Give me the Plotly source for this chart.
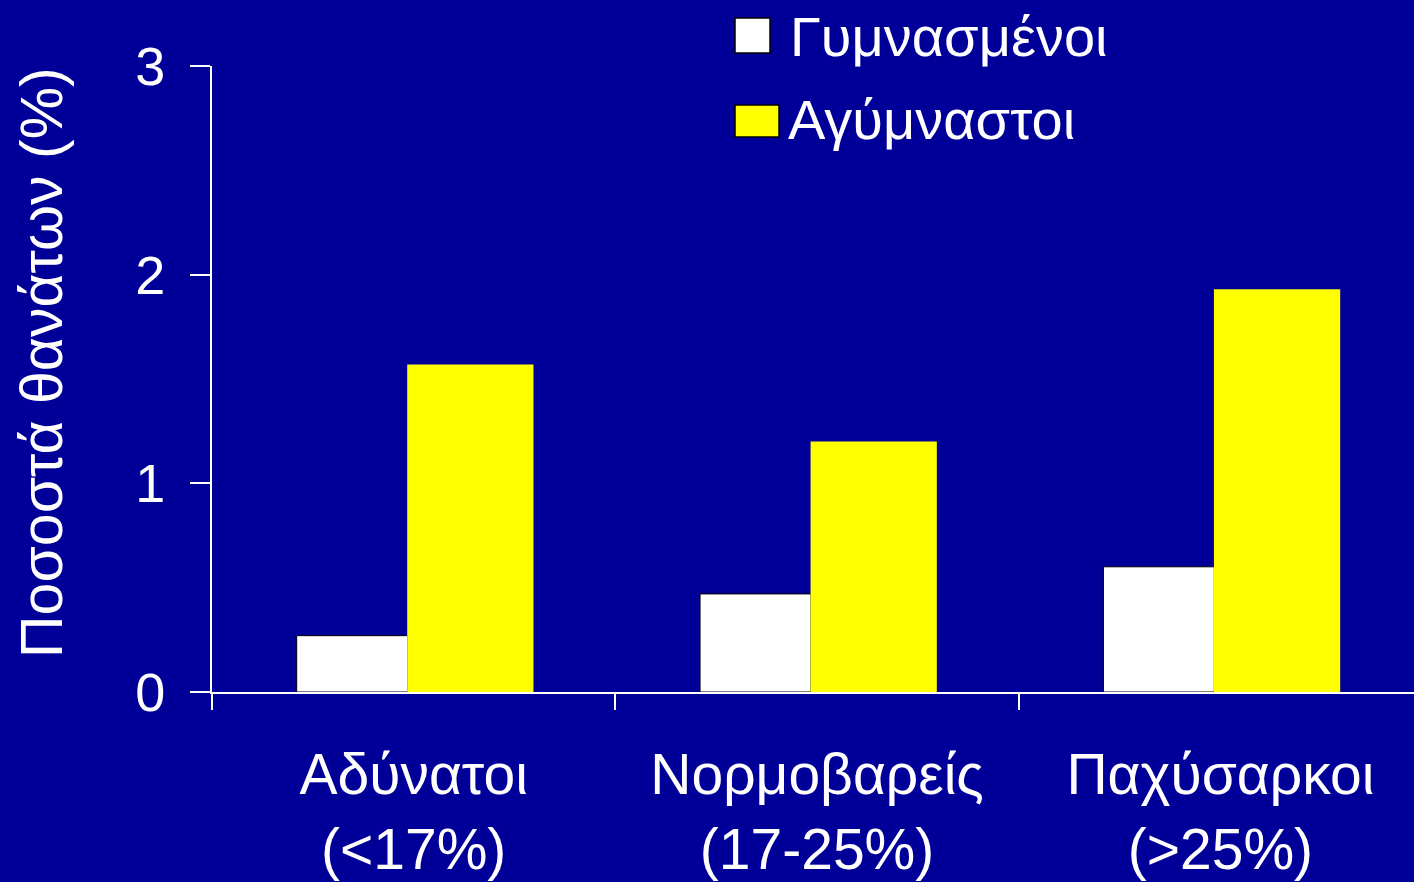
import plotly.graph_objects as go

categories = ["Αδύνατοι<br>(<17%)", "Νορμοβαρείς<br>(17-25%)", "Παχύσαρκοι<br>(>25%)"]
trained = [0.27, 0.47, 0.60]
untrained = [1.57, 1.20, 1.93]
series_names = ["Γυμνασμένοι", "Αγύμναστοι"]
y_ticks = [0, 1, 2, 3]

BG = "#000099"
FONT = "Liberation Sans, Arial, sans-serif"

W, H = 1414, 882
L, R, T, B = 212, 0, 66, 190
pw, ph = W - L - R, H - T - B


def px_x(px):
    return (px - L) / pw


def px_y(py):
    return (H - B - py) / ph


fig = go.Figure()
fig.add_trace(go.Bar(
    x=categories, y=trained, name=series_names[0],
    marker=dict(color="#FFFFFF", line=dict(color="#000000", width=1)),
    width=0.275, offset=-0.29, showlegend=False,
))
fig.add_trace(go.Bar(
    x=categories, y=untrained, name=series_names[1],
    marker=dict(color="#FFFF00", line=dict(width=0)),
    width=0.313, offset=-0.016, showlegend=False,
))

shapes = [
    dict(type="rect", xref="paper", yref="paper",
         x0=px_x(735), x1=px_x(770), y0=px_y(53), y1=px_y(18),
         fillcolor="#FFFFFF", line=dict(color="#000000", width=1.5)),
    dict(type="rect", xref="paper", yref="paper",
         x0=px_x(735), x1=px_x(779), y0=px_y(137), y1=px_y(105),
         fillcolor="#FFFF00", line=dict(color="#000000", width=1.5)),
]
annotations = [
    dict(text=series_names[0], xref="paper", yref="paper", x=px_x(788), y=px_y(37),
         xanchor="left", yanchor="middle", showarrow=False,
         font=dict(family=FONT, size=56, color="#FFFFFF")),
    dict(text=series_names[1], xref="paper", yref="paper", x=px_x(786), y=px_y(119),
         xanchor="left", yanchor="middle", showarrow=False,
         font=dict(family=FONT, size=56, color="#FFFFFF")),
    dict(text="Ποσοστά θανάτων (%)", xref="paper", yref="paper", x=px_x(42), y=px_y(362),
         xanchor="center", yanchor="middle", textangle=-90, showarrow=False,
         font=dict(family=FONT, size=59, color="#FFFFFF")),
]

fig.update_layout(
    width=W, height=H,
    margin=dict(l=L, r=R, t=T, b=B, pad=0),
    paper_bgcolor=BG, plot_bgcolor=BG,
    barmode="overlay",
    showlegend=False,
    shapes=shapes,
    annotations=annotations,
    font=dict(family=FONT, color="#FFFFFF"),
    xaxis=dict(
        type="category", range=[-0.5, 2.48],
        showline=True, linecolor="#FFFFFF", linewidth=2,
        ticks="outside", tickson="boundaries", ticklen=16, tickwidth=2, tickcolor="#FFFFFF",
        tickfont=dict(family=FONT, size=57, color="#FFFFFF"),
        ticklabelstandoff=32,
        showgrid=False, zeroline=False, layer="below traces",
    ),
    yaxis=dict(
        range=[0, 3], tickvals=y_ticks, ticktext=[str(v) for v in y_ticks],
        showline=True, linecolor="#FFFFFF", linewidth=2,
        ticks="outside", ticklen=20, tickwidth=2, tickcolor="#FFFFFF",
        tickfont=dict(family=FONT, size=54, color="#FFFFFF"),
        ticklabelstandoff=14,
        showgrid=False, zeroline=False,
    ),
)

fig.write_html("out.html")
